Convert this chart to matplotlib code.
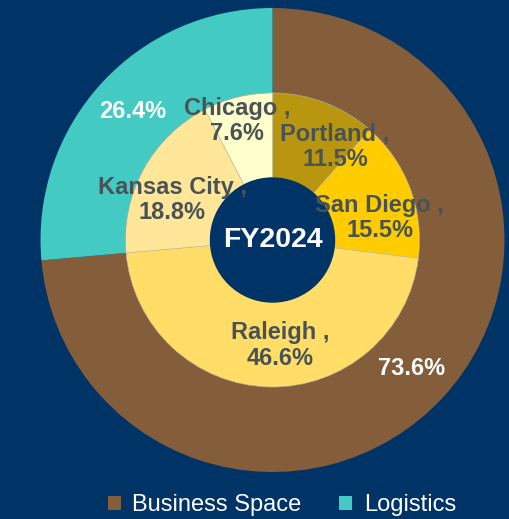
import numpy as np
import matplotlib.pyplot as plt
from matplotlib.patches import Patch

# outer ring
seg_names = ["Business Space", "Logistics"]
seg_values = [73.6, 26.4]
seg_colors = ["#845E3A", "#43CAC2"]

# inner ring
city_names = ["Portland", "San Diego", "Raleigh", "Kansas City", "Chicago"]
city_values = [11.5, 15.5, 46.6, 18.8, 7.6]
city_colors = ["#B8960F", "#FFCC00", "#FFDD66", "#FFE699", "#FFFFCC"]

center_text = "FY2024"

bg = "#003366"
label_col = "#495356"

W, H = 510, 519
fig = plt.figure(figsize=(W / 100, H / 100), dpi=100, facecolor=bg)
R = 232.0
cx, cy = 272.5, 240.0
ax = fig.add_axes([(cx - R) / W, (H - cy - R) / H, 2 * R / W, 2 * R / H])
ax.set_facecolor(bg)

r_inner = 147 / R
r_hole = 62 / R

ax.pie(seg_values, colors=seg_colors, radius=1.0, startangle=90, counterclock=False,
       wedgeprops=dict(width=1.0 - r_inner, linewidth=0))
ax.pie(city_values, colors=city_colors, radius=r_inner, startangle=90, counterclock=False,
       wedgeprops=dict(width=r_inner - r_hole, linewidth=0.4, edgecolor="#C8BFA0"))
ax.add_patch(plt.Circle((0, 0), r_hole, color=bg, zorder=5))

# outer labels
cum = 0
for v in seg_values:
    mid = np.deg2rad(90 - 3.6 * (cum + v / 2))
    ax.text(0.815 * np.cos(mid), 0.82 * np.sin(mid), "%.1f%%" % v, color="white",
            fontsize=17, fontweight="bold", ha="center", va="center", family="Liberation Sans")
    cum += v

# inner labels (Excel nudges them a bit off the wedge middle)
dist = [0.49, 0.48, 0.455, 0.485, 0.55]
shift = [(0.096, -0.057), (0.014, -0.075), (0.04, 0.0), (-0.008, -0.062), (-0.023, -0.02)]
cum = 0
for name, v, d, (dx, dy) in zip(city_names, city_values, dist, shift):
    mid = np.deg2rad(90 - 3.6 * (cum + v / 2))
    ax.text(d * np.cos(mid) + dx, d * np.sin(mid) + dy, "%s ,\n%.1f%%" % (name, v), color=label_col,
            fontsize=17, fontweight="bold", ha="center", va="center", linespacing=1.12,
            family="Liberation Sans", zorder=6)
    cum += v

ax.text(0, 0, center_text, color="white", fontsize=20.5, fontweight="bold", ha="center",
        va="center", family="Liberation Sans", zorder=6)

ax.set_xlim(-1, 1)
ax.set_ylim(-1, 1)
ax.set_aspect("equal")
ax.axis("off")

handles = [Patch(facecolor=c, edgecolor="none") for c in seg_colors]
leg = fig.legend(handles, seg_names, loc="center", bbox_to_anchor=(0.553, 1 - 505 / H), ncol=2,
                 frameon=False, prop=dict(family="Liberation Sans", size=17),
                 handlelength=0.55, handleheight=0.55, columnspacing=1.6, handletextpad=0.5)
for t in leg.get_texts():
    t.set_color("white")

fig.savefig("out.png", dpi=100, facecolor=bg)
